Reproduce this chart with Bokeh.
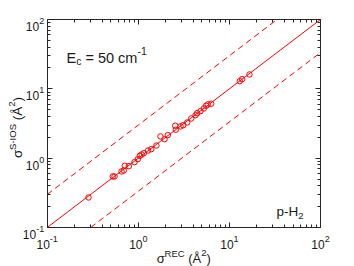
import math
from bokeh.plotting import figure
from bokeh.models import Label, LogAxis, FixedTicker, CustomJSTickFormatter, Range1d
from bokeh.embed import file_html
from bokeh.resources import INLINE

# ---- data ----
sigma_rec = [0.284, 0.525, 0.548, 0.655, 0.693, 0.711, 0.787, 0.908, 0.988, 1.04,
             1.09, 1.15, 1.28, 1.39, 1.58, 1.75, 1.94, 2.11, 2.54, 2.58,
             2.91, 3.11, 3.44, 3.81, 4.25, 4.43, 4.82, 5.24, 5.56, 5.79,
             6.31, 13.0, 13.8, 16.6]
sigma_sios = [0.271, 0.545, 0.545, 0.643, 0.665, 0.777, 0.767, 0.875, 0.967, 1.08,
              1.13, 1.18, 1.29, 1.35, 1.52, 2.06, 1.88, 2.15, 2.94, 2.57,
              2.87, 2.99, 3.27, 3.74, 4.17, 4.46, 4.77, 5.21, 5.70, 5.96,
              6.10, 12.9, 13.8, 16.1]
ratios = [1.0, 3.0, 1.0 / 3.0]
tick_values = [0.1, 1.0, 10.0, 100.0]
tick_exps = ["-1", "0", "1", "2"]
AX_LO, AX_HI = 0.1, 100.0

RED = "#ff0000"
FONT = "Liberation Sans"
TXT = "#1a1a1a"
AXC = "#262626"
SP = "\u00a0"

# ---- layout (pixels) ----
W, H = 354, 266
BOX_L, BOX_R, BOX_T, BOX_B = 46.7, 320, 19, 227   # box edges, from canvas top-left
dec_x = (BOX_R - BOX_L) / 3.0
dec_y = (BOX_B - BOX_T) / 3.0
x_lo = 10 ** (-1 - BOX_L / dec_x)
x_hi = 10 ** (2 + (W - BOX_R) / dec_x)
y_lo = 10 ** (-1 - (H - BOX_B) / dec_y)
y_hi = 10 ** (2 + BOX_T / dec_y)

AW = {'0': 556, '1': 556, '2': 556, '5': 556, '-': 333, ' ': 278, SP: 278, '(': 333,
      ')': 333, 'Å': 667, 'R': 722, 'E': 667, 'C': 722, 'S': 667, 'I': 278, 'O': 778,
      'p': 556, 'H': 722, 'c': 500, 'm': 833, '=': 584, 'σ': 600}


def tw(s, size):
    return sum(AW.get(ch, 556) for ch in s) * size / 1000.0


p = figure(frame_width=W, frame_height=H, x_axis_type="log", y_axis_type="log",
           x_range=Range1d(x_lo, x_hi), y_range=Range1d(y_lo, y_hi),
           output_backend="svg", toolbar_location=None,
           min_border_left=0, min_border_right=0, min_border_top=0, min_border_bottom=0)
p.background_fill_color = "white"
p.border_fill_color = "white"
p.outline_line_color = None
p.xgrid.visible = False
p.ygrid.visible = False

blank = CustomJSTickFormatter(code="return ''")
minor = [m * t for t in tick_values[:-1] for m in range(2, 10)]


def style_axis(ax, loc):
    ax.ticker = FixedTicker(ticks=tick_values, minor_ticks=minor)
    ax.formatter = blank
    ax.fixed_location = loc
    ax.bounds = (AX_LO, AX_HI)
    ax.major_tick_in = 5
    ax.major_tick_out = 0
    ax.minor_tick_in = 3
    ax.minor_tick_out = 0
    ax.axis_line_color = AXC
    ax.major_tick_line_color = AXC
    ax.minor_tick_line_color = AXC
    ax.major_label_standoff = 0
    ax.major_label_text_font_size = "0px"
    ax.axis_label = None
    ax.axis_label_standoff = 0
    ax.axis_label_text_font_size = "0px"


style_axis(p.xaxis[0], AX_LO)
style_axis(p.yaxis[0], AX_LO)
a_top = LogAxis()
style_axis(a_top, AX_HI)
p.add_layout(a_top, "above")
a_right = LogAxis()
style_axis(a_right, AX_HI)
p.add_layout(a_right, "right")

# reference lines y = r x, kept inside the box
for r in ratios:
    xs = [max(AX_LO, AX_LO / r), min(AX_HI, AX_HI / r)]
    ys = [v * r for v in xs]
    if r == 1.0:
        p.line(xs, ys, line_color=RED, line_width=1)
    else:
        p.line(xs, ys, line_color=RED, line_width=1, line_dash="6 4")

p.scatter(sigma_rec, sigma_sios, size=5.5, marker="circle", fill_color=None,
          line_color=RED, line_width=1)


def lab(**kw):
    kw.setdefault("text_font", FONT)
    kw.setdefault("text_color", TXT)
    kw.setdefault("text_baseline", "alphabetic")
    p.add_layout(Label(**kw))


# tick labels (bottom)
for v, e in zip(tick_values, tick_exps):
    w10 = tw("10", 12)
    we = tw(e, 9)
    start = -(w10 + we) / 2
    lab(x=v, x_units="data", y=22, y_units="screen", text="10", text_font_size="12px",
        text_align="left", x_offset=start)
    lab(x=v, x_units="data", y=27.7, y_units="screen", text=e, text_font_size="9px",
        text_align="left", x_offset=start + w10)

# tick labels (left)
for v, e in zip(tick_values, tick_exps):
    we = tw(e, 9)
    lab(x=BOX_L - 3, x_units="screen", y=v, y_units="data", text=e, text_font_size="9px",
        text_align="right", y_offset=-1.5)
    lab(x=BOX_L - 3 - we, x_units="screen", y=v, y_units="data", text="10",
        text_font_size="12px", text_align="right", y_offset=-7)


def rich(pieces, x0, y0, vertical=False):
    pos = 0.0
    for text, size, shift in pieces:
        if vertical:
            x, y = x0 - shift, y0 + pos
            ang = math.pi / 2
        else:
            x, y = x0 + pos, y0 + shift
            ang = 0.0
        lab(x=x, y=y, x_units="screen", y_units="screen", text=text,
            text_font_size=f"{size}px", text_align="left", angle=ang)
        pos += tw(text, size)


def rich_width(pieces):
    return sum(tw(t, s) for t, s, _ in pieces)


cx = (BOX_L + BOX_R) / 2

xl = [("σ", 13, 0), ("REC", 9.5, 5.5), (SP + "(Å", 13, 0), ("2", 9.5, 5.5),
      (")", 13, 0)]
rich(xl, cx - rich_width(xl) / 2, 8)

yl = [("σ", 13.5, 0), ("S-IOS", 9.5, 5.5), (SP + "(Å", 13.5, 0), ("2", 9.5, 5.5),
      (")", 13.5, 0)]
rich(yl, 17, 139 - rich_width(yl) / 2, vertical=True)

ec = [("E", 14.5, 0), ("c", 10.5, -3.5), (SP + "=" + SP + "50" + SP + "cm", 14.5, 0),
      ("-1", 10.5, 7)]
rich(ec, 66, 209)

ph = [("p-H", 13.5, 0), ("2", 9.5, -4.5)]
rich(ph, 276, 55)

open("out.html", "w").write(file_html(p, INLINE))
